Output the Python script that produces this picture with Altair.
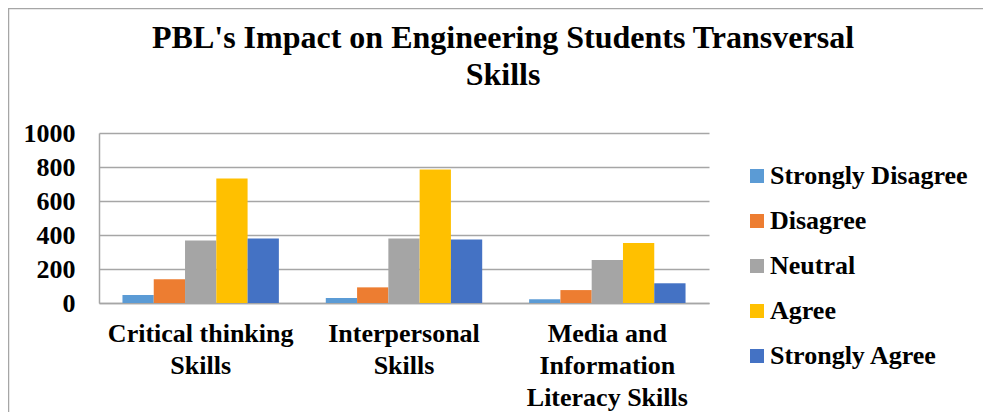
import altair as alt
import pandas as pd

skills = ["Critical thinking Skills", "Interpersonal Skills", "Media and Information Literacy Skills"]
skill_lines = [["Critical thinking", "Skills"], ["Interpersonal", "Skills"], ["Media and", "Information", "Literacy Skills"]]
responses = ["Strongly Disagree", "Disagree", "Neutral", "Agree", "Strongly Agree"]
colors = ["#5B9BD5", "#ED7D31", "#A5A5A5", "#FFC000", "#4472C4"]

strongly_disagree = [47, 29, 22]
disagree = [139, 92, 76]
neutral = [367, 380, 253]
agree = [733, 786, 353]
strongly_agree = [380, 374, 116]
y_ticks = [0, 200, 400, 600, 800, 1000]

series = [strongly_disagree, disagree, neutral, agree, strongly_agree]
rows = []
for r, vals in zip(responses, series):
    for s, v in zip(skills, vals):
        rows.append({"skill": s, "response": r, "count": v})
df = pd.DataFrame(rows)

label_expr = " : ".join(
    f"datum.label == '{s}' ? {lines!r}" for s, lines in zip(skills, skill_lines)
) + " : datum.label"

FONT = "Liberation Serif"

border = alt.Chart(pd.DataFrame({"k": [0]})).mark_rect(
    fillOpacity=0, stroke="#a6a6a6", strokeWidth=1.5
).encode(
    x=alt.value(-90.5), x2=alt.value(2000), y=alt.value(-124.5), y2=alt.value(1000)
)

bars = alt.Chart(df).mark_bar().encode(
    x=alt.X("skill:N", sort=skills, title=None,
            scale=alt.Scale(paddingInner=0, paddingOuter=0),
            axis=alt.Axis(labelAngle=0, labelExpr=label_expr, ticks=False,
                          labelFont=FONT, labelFontWeight="bold", labelColor="black",
                          labelFontSize=26, labelLineHeight=32, labelPadding=17,
                          labelLimit=0,
                          domainColor="#a6a6a6", domainWidth=1.5, grid=False)),
    xOffset=alt.XOffset("response:N", sort=responses,
                        scale=alt.Scale(paddingInner=0, paddingOuter=0.75)),
    y=alt.Y("count:Q", title=None, scale=alt.Scale(domain=[0, 1000], nice=False),
            axis=alt.Axis(values=y_ticks, format="d", ticks=False,
                          labelFont=FONT, labelFontWeight="bold", labelColor="black",
                          labelFontSize=26, labelPadding=24,
                          domainColor="#a6a6a6", domainWidth=1.5,
                          gridColor="#a6a6a6", gridWidth=1.5)),
    color=alt.Color("response:N", sort=responses,
                    scale=alt.Scale(domain=responses, range=colors),
                    legend=alt.Legend(orient="none", legendX=645, legendY=30, title=None,
                                      symbolType="square", symbolSize=196,
                                      symbolStrokeWidth=0, labelFontSize=26,
                                      labelFont=FONT, labelFontWeight="bold",
                                      labelColor="black", rowPadding=19,
                                      labelOffset=0, padding=0, labelLimit=0)),
)

chart = alt.layer(border, bars).properties(
    width=610,
    height=170,
    autosize=alt.AutoSizeParams(type="none"),
    padding={"left": 91, "top": 125, "right": 274, "bottom": 109},
    title=alt.TitleParams(
        text=["PBL's Impact on Engineering Students Transversal", "Skills"],
        font=FONT, fontSize=32, fontWeight="bold", color="black",
        anchor="middle", dx=99, lineHeight=37, offset=-84,
    ),
).configure_view(stroke=None)

chart.save("out.html", embed_options={"renderer": "svg", "actions": False})
